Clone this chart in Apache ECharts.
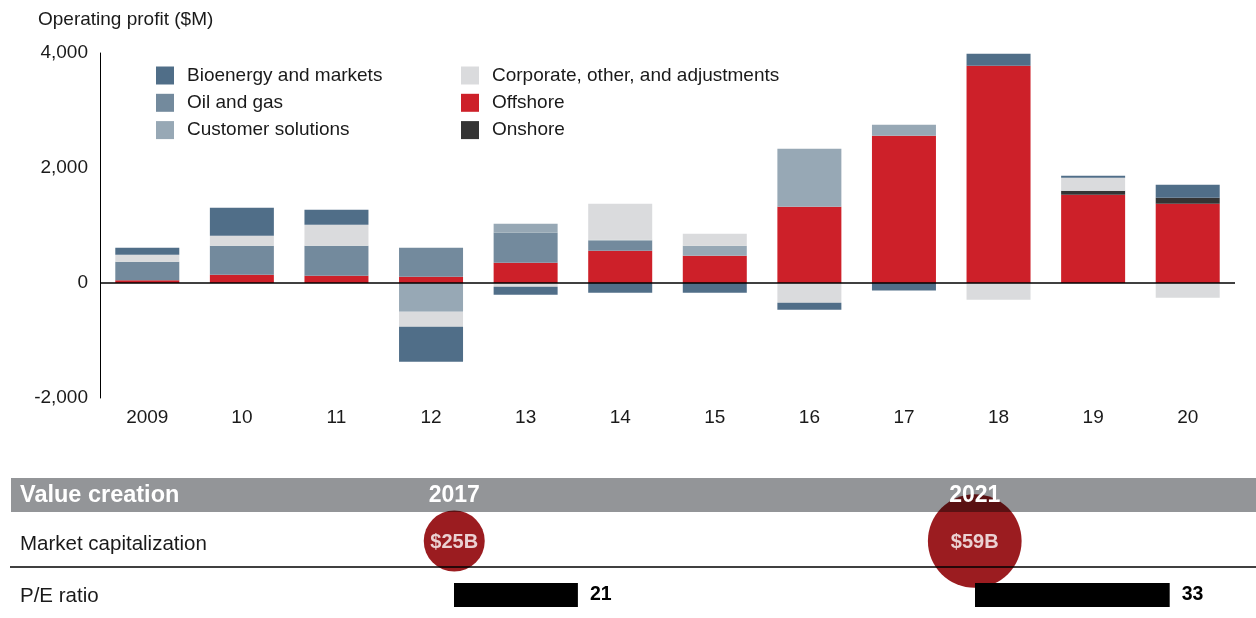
<!DOCTYPE html>
<html>
<head>
<meta charset="utf-8">
<script src="https://cdn.jsdelivr.net/npm/echarts@6/dist/echarts.min.js"></script>
<style>
  html, body { margin: 0; padding: 0; background: #fff; }
  #chart { width: 1256px; height: 618px; }
</style>
</head>
<body>
<div id="chart"></div>
<script>
// Años del eje X
const years = ['2009', '10', '11', '12', '13', '14', '15', '16', '17', '18', '19', '20'];

// Beneficio operativo por segmento ($M)
const offshore   = [46, 145, 128, 110, 354, 562, 475, 1328, 2562, 3780, 1536, 1380];
const onshore    = [0, 0, 0, 0, 0, 0, 0, 0, 0, 0, 70, 104];
const oilGas     = [325, 504, 521, 504, 521, 174, 0, 0, 0, 0, 0, 0];
const customer   = [0, 0, 0, -499, 157, 17, 174, 1008, 191, 0, 0, 0];
const corporate  = [122, 174, 365, -260, -64, 626, 209, -342, 0, -290, 226, -255];
const bioenergy  = [122, 487, 261, -609, -139, -168, -168, -122, -130, 208, 35, 226];

// Tabla inferior: creación de valor
const capYears  = ['2017', '2021'];
const marketCap = [25, 59];      // $B
const peRatio   = [21, 33];

const FONT = 'Liberation Sans, Arial, Helvetica, sans-serif';
const TXT = '#1a1a1a';

const chart = echarts.init(document.getElementById('chart'), null, { renderer: 'canvas' });

// Orden de apilado: de abajo hacia arriba (positivos y negativos por separado)
const segs = [
    { name: 'Offshore', data: offshore, color: '#cd2029' },
    { name: 'Onshore', data: onshore, color: '#343434' },
    { name: 'Oil and gas', data: oilGas, color: '#738a9d' },
    { name: 'Customer solutions', data: customer, color: '#97a8b5' },
    { name: 'Corporate, other, and adjustments', data: corporate, color: '#dadbdd' },
    { name: 'Bioenergy and markets', data: bioenergy, color: '#506e88' }
];

const series = segs.map((s, i) => ({
    name: s.name,
    type: 'bar',
    stack: 'profit',
    barWidth: 64,
    data: s.data,
    itemStyle: { color: s.color },
    xAxisIndex: 0,
    yAxisIndex: 0,
    markLine: i === 0 ? {
        silent: true,
        symbol: 'none',
        label: { show: false },
        lineStyle: { color: '#000', width: 1.5, type: 'solid' },
        data: [{ yAxis: 0 }]
    } : undefined
}));

// Círculos de capitalización (área proporcional)
series.push({
    type: 'scatter',
    xAxisIndex: 1,
    yAxisIndex: 1,
    blendMode: 'multiply',
    data: capYears.map((y, i) => [y, 'Market capitalization', marketCap[i]]),
    symbolSize: v => Math.sqrt(v[2]) * 12.2,
    itemStyle: { color: '#9b1c20', opacity: 1 },
    z: 3
});
series.push({
    type: 'scatter',
    xAxisIndex: 1,
    yAxisIndex: 1,
    data: capYears.map((y, i) => [y, 'Market capitalization', marketCap[i]]),
    symbolSize: 1,
    itemStyle: { color: 'transparent' },
    label: {
        show: true,
        position: 'inside',
        offset: [0, 1],
        formatter: p => '$' + p.value[2] + 'B',
        color: '#fff',
        fontWeight: 'bold',
        fontSize: 20,
        fontFamily: FONT
    },
    z: 6
});

// Barras P/E
peRatio.forEach((v, i) => {
    series.push({
        type: 'bar',
        xAxisIndex: 2 + i,
        yAxisIndex: 2 + i,
        data: [v],
        barWidth: 24,
        itemStyle: { color: '#000' },
        label: {
            show: true,
            position: 'right',
            distance: 12,
            color: '#000',
            fontWeight: 'bold',
            fontSize: 19.5,
            fontFamily: FONT
        }
    });
});

const hiddenAxis = {
    axisLine: { show: false },
    axisTick: { show: false },
    axisLabel: { show: false },
    splitLine: { show: false }
};

const legendBase = {
    orient: 'vertical',
    top: 66,
    padding: 0,
    icon: 'rect',
    itemWidth: 18,
    itemHeight: 18,
    itemGap: 8.3,
    selectedMode: false,
    textStyle: { fontSize: 19, lineHeight: 18, color: TXT, fontFamily: FONT, padding: [0, 0, 0, 8] }
};

const option = {
    animation: false,
    backgroundColor: '#fff',
    title: {
        text: 'Operating profit ($M)',
        left: 38,
        top: 10,
        padding: 0,
        textStyle: { fontSize: 19, fontWeight: 'normal', color: TXT, fontFamily: FONT }
    },
    legend: [
        Object.assign({}, legendBase, {
            left: 156,
            data: ['Bioenergy and markets', 'Oil and gas', 'Customer solutions']
        }),
        Object.assign({}, legendBase, {
            left: 461,
            data: ['Corporate, other, and adjustments', 'Offshore', 'Onshore']
        })
    ],
    grid: [
        { left: 100, right: 21, top: 53, bottom: 220 },
        { left: 194, right: 21, top: 520, height: 42 },
        { left: 454, width: 236, top: 583, height: 24 },
        { left: 975, width: 236, top: 583, height: 24 }
    ],
    xAxis: [
        {
            type: 'category',
            gridIndex: 0,
            data: years,
            axisLine: { show: false, onZero: false },
            axisTick: { show: false },
            axisLabel: { color: TXT, fontSize: 19, fontFamily: FONT, margin: 10 }
        },
        {
            type: 'category',
            gridIndex: 1,
            data: capYears,
            position: 'top',
            z: 10,
            axisLine: { show: false },
            axisTick: { show: false },
            axisLabel: { color: '#fff', fontWeight: 'bold', fontSize: 23, fontFamily: FONT, margin: 13 }
        },
        Object.assign({ type: 'value', gridIndex: 2, min: 0, max: 40 }, hiddenAxis),
        Object.assign({ type: 'value', gridIndex: 3, min: 0, max: 40 }, hiddenAxis)
    ],
    yAxis: [
        {
            type: 'value',
            gridIndex: 0,
            min: -2000,
            max: 4000,
            interval: 2000,
            axisLine: { show: true, lineStyle: { color: '#000', width: 1 } },
            axisTick: { show: false },
            splitLine: { show: false },
            axisLabel: {
                color: TXT,
                fontSize: 19,
                fontFamily: FONT,
                margin: 12,
                formatter: v => v.toLocaleString('en-US')
            }
        },
        Object.assign({ type: 'category', gridIndex: 1, data: ['Market capitalization'] }, hiddenAxis),
        Object.assign({ type: 'category', gridIndex: 2, data: ['P/E ratio'] }, hiddenAxis),
        Object.assign({ type: 'category', gridIndex: 3, data: ['P/E ratio'] }, hiddenAxis)
    ],
    graphic: [
        { type: 'rect', z: 0, shape: { x: 11, y: 478, width: 1245, height: 34 }, style: { fill: '#939598' } },
        { type: 'text', z: 10, x: 20, y: 496, style: { text: 'Value creation', fill: '#fff', font: 'bold 23.5px ' + FONT, textVerticalAlign: 'middle' } },
        { type: 'text', z: 10, x: 20, y: 544, style: { text: 'Market capitalization', fill: TXT, font: '20.5px ' + FONT, textVerticalAlign: 'middle' } },
        { type: 'line', z: 10, shape: { x1: 10, y1: 567, x2: 1256, y2: 567 }, style: { stroke: '#000', lineWidth: 1.5 } },
        { type: 'text', z: 10, x: 20, y: 596, style: { text: 'P/E ratio', fill: TXT, font: '20.5px ' + FONT, textVerticalAlign: 'middle' } }
    ],
    series: series
};

chart.setOption(option);
</script>
</body>
</html>
